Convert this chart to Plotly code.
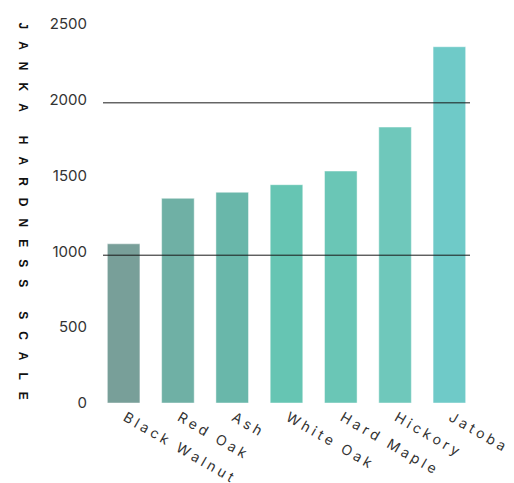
import plotly.graph_objects as go

woods = ["Black Walnut", "Red Oak", "Ash", "White Oak", "Hard Maple", "Hickory", "Jatoba"]
hardness = [1050, 1350, 1390, 1440, 1530, 1820, 2350]
bar_colors = ["#789f99", "#6fb0a5", "#69b7aa", "#66c5b3", "#6ac6b6", "#6fc8bb", "#6fcac8"]
reference_lines = [975, 1980]
y_ticks = [0, 500, 1000, 1500, 2000, 2500]
axis_title = "JANKA HARDNESS SCALE"


def spaced(text, sep):
    # fake letter-spacing with unicode spaces
    return sep.join(text)


def spaced_title(text):
    words = text.split(" ")
    letter_sep = "\u2003"
    word_sep = "\u2003\u2003"
    return word_sep.join(letter_sep.join(w) for w in words)


fig = go.Figure()
fig.add_trace(go.Bar(
    x=list(range(len(woods))),
    y=hardness,
    marker=dict(color=bar_colors, line=dict(color="rgba(255,255,255,0.45)", width=1)),
    width=0.6,
    hoverinfo="skip",
))

for v in reference_lines:
    fig.add_shape(type="line", xref="paper", x0=0, x1=1, yref="y", y0=v, y1=v,
                  line=dict(color="#1a1a1a", width=1))

fig.add_annotation(
    text="<b>" + spaced_title(axis_title) + "</b>",
    textangle=90,
    xref="paper", yref="paper", x=0, y=0.5,
    xshift=-89, yshift=3,
    showarrow=False,
    font=dict(family="Liberation Sans", size=12, color="#111111"),
)

# page body adds an 8px offset, so the figure is a bit smaller than the window
fig.update_layout(
    width=506, height=475,
    margin=dict(l=95, r=44, t=16, b=80),
    paper_bgcolor="white",
    plot_bgcolor="white",
    showlegend=False,
    font=dict(family="Inter", size=14, color="#333333"),
)
fig.update_xaxes(
    range=[-0.38, 6.38],
    automargin=False,
    tickmode="array",
    tickvals=list(range(len(woods))),
    ticktext=[spaced(w, "\u2005") for w in woods],
    tickangle=30,
    ticklabelshift=2,
    ticklabelstandoff=3,
    showgrid=False, zeroline=False, showline=False, ticks="",
    tickfont=dict(family="Inter", size=14, color="#333333"),
)
fig.update_yaxes(
    range=[0, 2500],
    automargin=False,
    tickmode="array",
    tickvals=y_ticks,
    showgrid=False, zeroline=False, showline=False, ticks="",
    ticklabelstandoff=15,
    tickfont=dict(family="Inter", size=15, color="#333333"),
)

fig.write_html("out.html")
